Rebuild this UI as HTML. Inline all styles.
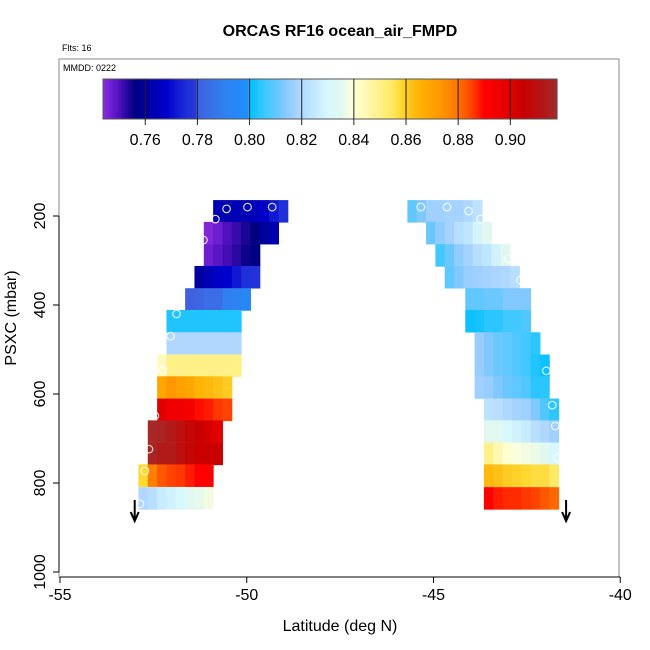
<!DOCTYPE html>
<html><head><meta charset="utf-8"><style>
html,body{margin:0;padding:0;background:#fff;}
svg{display:block;font-family:"Liberation Sans",sans-serif;}
</style></head><body>
<svg id="chart" width="650" height="650" viewBox="0 0 650 650" xmlns="http://www.w3.org/2000/svg">
<text x="340" y="36" text-anchor="middle" font-size="16" font-weight="bold">ORCAS RF16 ocean_air_FMPD</text>
<text x="62" y="51" font-size="9">Flts: 16</text>
<rect x="59" y="59" width="560" height="518" fill="none" stroke="#888" stroke-width="1"/>
<text x="63" y="71" font-size="9">MMDD: 0222</text>
<g id="colorbar"></g>
<g id="cells"></g>
<g id="pts"></g>
<g id="axes"></g>
<text x="340" y="631" text-anchor="middle" font-size="16">Latitude (deg N)</text>
<text transform="translate(16,318) rotate(-90)" text-anchor="middle" font-size="16">PSXC (mbar)</text>
</svg>
<script>
const xTicks=[-55,-50,-45,-40];
const yTicks=[200,400,600,800,1000];
const cbTicks=[0.76,0.78,0.80,0.82,0.84,0.86,0.88,0.90];
const rowP=[189,238,288,337,387,436,486,536,585,635,684,734,783,834];
const leftStart=[-50.9,-51.15,-51.15,-51.4,-51.65,-52.15,-52.15,-52.4,-52.4,-52.4,-52.65,-52.65,-52.9,-52.9];
const rightStart=[-45.7,-45.2,-44.95,-44.7,-44.15,-44.15,-43.9,-43.9,-43.9,-43.65,-43.65,-43.65,-43.65,-43.65];
const leftVals=[
[0.764,0.763,0.764,0.764,0.765,0.767,0.772,0.776],
[0.745,0.747,0.750,0.752,0.754,0.756,0.760,0.763],
[0.747,0.749,0.751,0.753,0.755,0.756],
[0.761,0.764,0.767,0.768,0.772,0.776,0.777],
[0.780,0.782,0.784,0.784,0.790,0.791,0.794],
[0.803,0.803,0.803,0.803,0.803,0.803,0.803,0.803],
[0.820,0.820,0.820,0.820,0.820,0.820,0.820,0.820],
[0.843,0.850,0.850,0.850,0.850,0.850,0.850,0.850,0.850],
[0.869,0.873,0.871,0.869,0.865,0.864,0.862,0.860],
[0.900,0.895,0.895,0.893,0.889,0.888,0.886,0.885],
[0.917,0.916,0.913,0.910,0.907,0.905,0.902,0.900],
[0.916,0.913,0.913,0.910,0.907,0.905,0.905,0.905],
[0.858,0.878,0.883,0.885,0.886,0.888,0.890,0.890],
[0.820,0.822,0.826,0.828,0.830,0.835,0.836,0.838]];
const rightVals=[
[0.810,0.813,0.817,0.817,0.818,0.818,0.820,0.823],
[0.811,0.815,0.818,0.822,0.824,0.829,0.835],
[0.806,0.811,0.815,0.818,0.822,0.824,0.828,0.835],
[0.810,0.813,0.816,0.817,0.818,0.819,0.820,0.822],
[0.810,0.810,0.811,0.811,0.813,0.813,0.813],
[0.801,0.802,0.804,0.804,0.806,0.806,0.808],
[0.816,0.813,0.811,0.810,0.808,0.806,0.804],
[0.816,0.813,0.811,0.810,0.808,0.806,0.803,0.801],
[0.817,0.816,0.813,0.811,0.810,0.808,0.804,0.804],
[0.823,0.822,0.820,0.818,0.817,0.813,0.808,0.804],
[0.835,0.835,0.830,0.828,0.826,0.822,0.820,0.817],
[0.850,0.845,0.841,0.839,0.838,0.837,0.835,0.830],
[0.864,0.862,0.860,0.859,0.858,0.857,0.857,0.854],
[0.890,0.888,0.887,0.887,0.886,0.885,0.883,0.881]];
const ptLat=[-50.54,-49.98,-49.32,-50.84,-51.16,-51.88,-52.04,-52.25,-52.46,-52.62,-52.73,-52.86,-45.34,-44.64,-44.06,-43.74,-42.99,-42.67,-41.98,-41.82,-41.74,-41.68];
const ptP=[184,180,180,207,254,420,470,546,649,724,773,847,180,180,189,207,297,344,548,625,672,744];
const arrowLat=[-53.0,-41.45];

const NS='http://www.w3.org/2000/svg';
const CW=0.25, RH=49.5, VMIN=0.7438, VMAX=0.9179;
function X(lat){return 60+(lat+55)*37.35;}
function Y(p){return 216+(p-200)*0.445;}
function CB(v){return 103+(v-VMIN)/(VMAX-VMIN)*454;}
const stops=[[0.744,'#8a2be2'],[0.750,'#5010c0'],[0.756,'#000080'],[0.762,'#0000a8'],[0.768,'#0000cd'],[0.776,'#2030d8'],[0.7795,'#2838d8'],[0.780,'#4060e0'],[0.790,'#3080f0'],[0.7995,'#1e90ff'],[0.800,'#00c0ff'],[0.806,'#40c8ff'],[0.810,'#60c8ff'],[0.813,'#80c8ff'],[0.817,'#a0d0ff'],[0.820,'#b0d8ff'],[0.826,'#c8ecff'],[0.830,'#d8f8ff'],[0.835,'#e0f8f0'],[0.840,'#ffffd8'],[0.845,'#fff8b0'],[0.850,'#fff088'],[0.855,'#ffe860'],[0.858,'#ffd830'],[0.862,'#ffc018'],[0.866,'#ffb000'],[0.872,'#ff9c00'],[0.878,'#ff8000'],[0.883,'#ff5800'],[0.886,'#ff3800'],[0.890,'#ff0000'],[0.900,'#e00000'],[0.905,'#c80000'],[0.918,'#a52a2a']];
function hx(c){return [1,3,5].map(i=>parseInt(c.substr(i,2),16));}
function cmap(v){
  if(v<=stops[0][0])return stops[0][1];
  for(let i=1;i<stops.length;i++){
    if(v<=stops[i][0]){const a=hx(stops[i-1][1]),b=hx(stops[i][1]);const t=(v-stops[i-1][0])/(stops[i][0]-stops[i-1][0]);
      return 'rgb('+a.map((x,k)=>Math.round(x+(b[k]-x)*t)).join(',')+')';}
  }
  return stops[stops.length-1][1];
}
function el(tag,attrs,parent){const e=document.createElementNS(NS,tag);for(const k in attrs)e.setAttribute(k,attrs[k]);parent.appendChild(e);return e;}

// colorbar
const cb=document.getElementById('colorbar');
for(let i=0;i<200;i++){
  const v0=VMIN+(VMAX-VMIN)*i/200, v1=VMIN+(VMAX-VMIN)*(i+1)/200;
  const r=el('rect',{x:CB(v0),y:79,width:CB(v1)-CB(v0)+0.6,height:40,fill:cmap((v0+v1)/2)},cb);
  
  
}
const cbf=el('rect',{x:103,y:79,width:454,height:40,fill:'none',stroke:'#555','stroke-width':1},cb);


cbTicks.forEach(v=>{
  const l=el('line',{x1:CB(v),x2:CB(v),y1:79,y2:125,stroke:'#222','stroke-width':1},cb);
  
  
  const t=el('text',{x:CB(v),y:145,'text-anchor':'middle','font-size':16},cb);
  t.textContent=v.toFixed(2);
  
  
});

// cells
const cg=document.getElementById('cells');
function drawSide(starts,vals,side){
  rowP.forEach((p,r)=>{
    vals[r].forEach((v,c)=>{
      const lat=starts[r]+c*CW;
      const x0=X(lat),x1=X(lat+CW),y0=Y(p-RH/2),y1=Y(p+RH/2);
      const e=el('rect',{x:x0,y:y0,width:x1-x0+0.5,height:y1-y0+0.5,fill:cmap(v)},cg);
      
      
    });
  });
}
drawSide(leftStart,leftVals,'left');
drawSide(rightStart,rightVals,'right');

// points
const pg=document.getElementById('pts');
ptLat.forEach((lat,i)=>{
  const c=el('circle',{cx:X(lat),cy:Y(ptP[i]),r:3.8,fill:'none',stroke:'#fff','stroke-width':1.1,opacity:0.9},pg);
  
  
});

// axes
const ag=document.getElementById('axes');
const xl=el('line',{x1:X(-55),x2:X(-40),y1:577,y2:577,stroke:'#000','stroke-width':1},ag);


xTicks.forEach(v=>{
  const l=el('line',{x1:X(v),x2:X(v),y1:577,y2:583,stroke:'#000'},ag);
  
  
  const t=el('text',{x:X(v),y:600,'text-anchor':'middle','font-size':16},ag);
  t.textContent=String(v);
  
  
});
const yl=el('line',{x1:59,x2:59,y1:Y(200),y2:Y(1000),stroke:'#000','stroke-width':1},ag);


yTicks.forEach(v=>{
  const l=el('line',{x1:53,x2:59,y1:Y(v),y2:Y(v),stroke:'#000'},ag);
  
  
  const t=el('text',{transform:'translate(45,'+Y(v)+') rotate(-90)','text-anchor':'middle','font-size':16},ag);
  t.textContent=String(v);
  
  
});
arrowLat.forEach(lat=>{
  const x=X(lat);
  const a=el('path',{d:'M'+x+' 500 L'+x+' 520 M'+(x-4)+' 512 L'+x+' 521 L'+(x+4)+' 512',stroke:'#000','stroke-width':2,fill:'none'},ag);
  
  
});
</script>
</body></html>
